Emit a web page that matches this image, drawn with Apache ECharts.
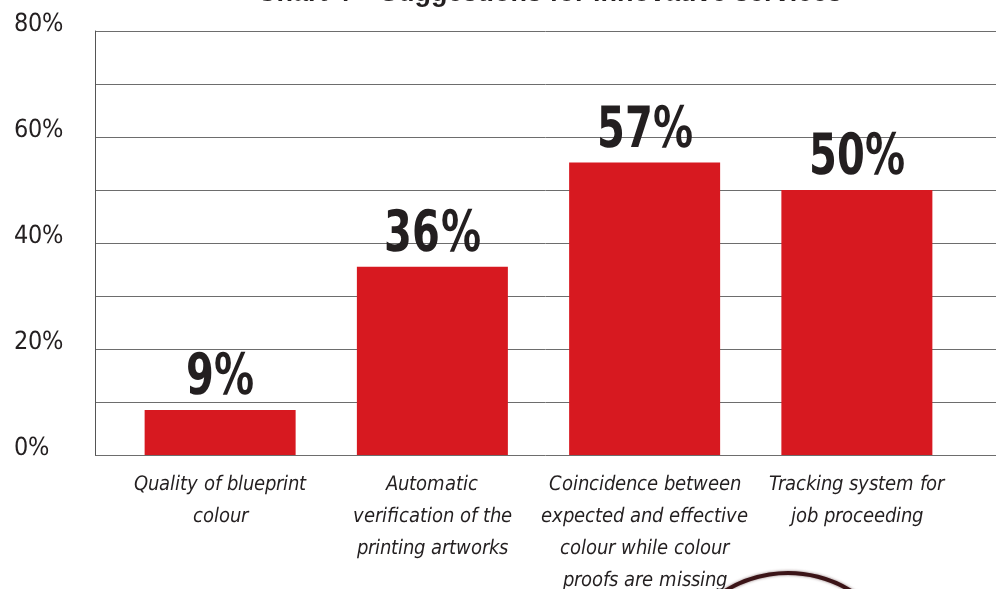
<!DOCTYPE html>
<html>
<head>
<meta charset="utf-8">
<script src="https://cdn.jsdelivr.net/npm/echarts@6/dist/echarts.min.js"></script>
<style>
  html, body { margin: 0; padding: 0; background: #fff; }
  #chart { width: 996px; height: 589px; }
  @font-face { font-family: 'Narrow'; font-weight: normal; font-style: normal;
    src: local('Liberation Sans Narrow'), local('LiberationSansNarrow-Regular'), local('DejaVu Sans Condensed'), local('DejaVuSansCondensed'); }
  @font-face { font-family: 'Narrow'; font-weight: bold; font-style: normal;
    src: local('Liberation Sans Narrow Bold'), local('LiberationSansNarrow-Bold'), local('DejaVu Sans Condensed Bold'), local('DejaVuSansCondensed-Bold'); }
  @font-face { font-family: 'Narrow'; font-weight: normal; font-style: italic;
    src: local('Liberation Sans Narrow Italic'), local('LiberationSansNarrow-Italic'), local('DejaVu Sans Condensed Oblique'), local('DejaVuSansCondensed-Oblique'); }
</style>
</head>
<body>
<div id="chart"></div>
<script>
const titleText = 'Chart 4 – Suggestions for innovative services';
const categories = [
    'Quality of blueprint\ncolour',
    'Automatic\nverification of the\nprinting artworks',
    'Coincidence between\nexpected and effective\ncolour while colour\nproofs are missing',
    'Tracking system for\njob proceeding'
];
// bar heights as drawn (percent)
const values = [8.5, 35.5, 55.2, 50];
// printed value labels
const valueLabels = ['9%', '36%', '57%', '50%'];

const narrow = 'Narrow, "DejaVu Sans", sans-serif';

function draw() {
    let chartDom = document.getElementById('chart');
    let myChart = echarts.init(chartDom);
    let option = {
        animation: false,
        title: {
            text: titleText,
            left: 252,
            top: -25,
            textStyle: {
                fontFamily: 'Arial, "Liberation Sans", sans-serif',
                fontSize: 27,
                fontWeight: 'bold',
                color: '#231f20'
            }
        },
        grid: [
            {left: 95, right: 0, top: 31, bottom: 134, outerBoundsMode: 'none'},
            {left: 114, right: 33, top: 31, bottom: 134, outerBoundsMode: 'none'}
        ],
        xAxis: [
            {gridIndex: 0, type: 'category', data: [''], show: false},
            {
                gridIndex: 1,
                type: 'category',
                data: categories,
                axisLine: {show: false},
                axisTick: {show: false},
                axisLabel: {
                    interval: 0,
                    margin: 14,
                    fontFamily: narrow,
                    fontStyle: 'italic',
                    fontSize: 20,
                    lineHeight: 32,
                    color: '#231f20'
                }
            }
        ],
        yAxis: [
            {
                gridIndex: 0,
                type: 'value',
                min: 0,
                max: 80,
                interval: 10,
                axisLine: {show: true, lineStyle: {color: '#555', width: 1}},
                axisTick: {show: false},
                splitLine: {show: true, lineStyle: {color: '#6d6d6d', width: 1}},
                axisLabel: {
                    align: 'left',
                    margin: 81,
                    verticalAlign: 'bottom',
                    lineHeight: 14,
                    fontFamily: narrow,
                    fontSize: 25,
                    color: '#231f20',
                    formatter: function (v) {
                        return v % 20 === 0 ? v + '%' : '';
                    }
                }
            },
            {gridIndex: 1, type: 'value', min: 0, max: 80, show: false}
        ],
        series: [
            {
                type: 'bar',
                xAxisIndex: 1,
                yAxisIndex: 1,
                data: values,
                barWidth: 151,
                itemStyle: {color: '#d71920'}
            },
            {
                // condensed value labels above the bars
                type: 'custom',
                xAxisIndex: 1,
                yAxisIndex: 1,
                data: values.map((v, i) => [i, v]),
                renderItem: function (params, api) {
                    let pt = api.coord([api.value(0), api.value(1)]);
                    return {
                        type: 'text',
                        x: pt[0],
                        y: pt[1] - 2,
                        scaleX: 0.78,
                        style: {
                            text: valueLabels[params.dataIndex],
                            fontFamily: narrow,
                            fontWeight: 'bold',
                            fontSize: 57,
                            fill: '#231f20',
                            align: 'center',
                            verticalAlign: 'bottom'
                        }
                    };
                }
            }
        ],
        graphic: [
            {
                type: 'arc',
                shape: {cx: 788, cy: 693, r: 120, startAngle: Math.PI * 1.2, endAngle: Math.PI * 1.8},
                style: {stroke: '#3b1417', lineWidth: 4, fill: null, shadowBlur: 3, shadowColor: 'rgba(59,20,23,0.6)'},
                z: 0
            }
        ]
    };
    option && myChart.setOption(option);
}

Promise.all([
    document.fonts.load('22px Narrow'),
    document.fonts.load('bold 60px Narrow'),
    document.fonts.load('italic 22px Narrow')
]).then(draw, draw);
</script>
</body>
</html>
